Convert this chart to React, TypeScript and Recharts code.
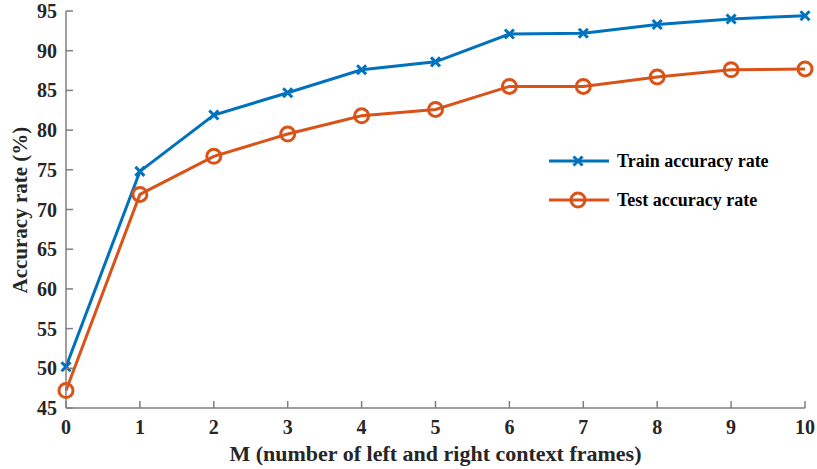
import React from "react";
import {
  LineChart,
  Line,
  XAxis,
  YAxis,
  Legend,
} from "recharts";

const M_VALUES = [0, 1, 2, 3, 4, 5, 6, 7, 8, 9, 10];
const TRAIN_ACC = [50.2, 74.8, 81.9, 84.7, 87.6, 88.6, 92.1, 92.2, 93.3, 94.0, 94.4];
const TEST_ACC = [47.2, 71.9, 76.7, 79.5, 81.8, 82.6, 85.5, 85.5, 86.7, 87.6, 87.7];
const X_TICKS = [0, 1, 2, 3, 4, 5, 6, 7, 8, 9, 10];
const Y_TICKS = [45, 50, 55, 60, 65, 70, 75, 80, 85, 90, 95];

const TRAIN_COLOR = "#0072BD";
const TEST_COLOR = "#D95319";
const AXIS_COLOR = "#7f7f7f";
const TEXT_COLOR = "#262626";
const FONT = "'Liberation Serif', 'Times New Roman', serif";
const TICK_LEN = 7;

const data = M_VALUES.map((m, i) => ({
  m,
  train: TRAIN_ACC[i],
  test: TEST_ACC[i],
}));

function XMark(props: any) {
  const { cx, cy } = props;
  if (cx == null || cy == null) return <g />;
  const s = 4.5;
  return (
    <g stroke={TRAIN_COLOR} strokeWidth={3}>
      <line x1={cx - s} y1={cy - s} x2={cx + s} y2={cy + s} />
      <line x1={cx - s} y1={cy + s} x2={cx + s} y2={cy - s} />
    </g>
  );
}

function OMark(props: any) {
  const { cx, cy } = props;
  if (cx == null || cy == null) return <g />;
  return <circle cx={cx} cy={cy} r={7} fill="none" stroke={TEST_COLOR} strokeWidth={3} />;
}

function BottomTick(props: any) {
  const { x, y, payload } = props;
  return (
    <g>
      <line x1={x} y1={y} x2={x} y2={y - TICK_LEN} stroke={AXIS_COLOR} strokeWidth={1.5} />
      <text x={x} y={y + 26} textAnchor="middle" fontFamily={FONT} fontWeight="bold" fontSize={20} fill={TEXT_COLOR}>
        {payload.value}
      </text>
    </g>
  );
}

function TopTick(props: any) {
  const { x, y } = props;
  return <line x1={x} y1={y} x2={x} y2={y + TICK_LEN} stroke={AXIS_COLOR} strokeWidth={1.5} />;
}

function LeftTick(props: any) {
  const { x, y, payload } = props;
  return (
    <g>
      <line x1={x} y1={y} x2={x + TICK_LEN} y2={y} stroke={AXIS_COLOR} strokeWidth={1.5} />
      <text x={x - 9} y={y + 7} textAnchor="end" fontFamily={FONT} fontWeight="bold" fontSize={20} fill={TEXT_COLOR}>
        {payload.value}
      </text>
    </g>
  );
}

function RightTick(props: any) {
  const { x, y } = props;
  return <line x1={x} y1={y} x2={x - TICK_LEN} y2={y} stroke={AXIS_COLOR} strokeWidth={1.5} />;
}

function LegendBox() {
  const rows = [
    { label: "Train accuracy rate", color: TRAIN_COLOR, mark: "x" },
    { label: "Test accuracy rate", color: TEST_COLOR, mark: "o" },
  ];
  return (
    <svg width={240} height={70} style={{ display: "block" }}>
      {rows.map((r, i) => {
        const y = 16 + i * 39;
        return (
          <g key={r.label}>
            <line x1={5} y1={y} x2={65} y2={y} stroke={r.color} strokeWidth={3} />
            {r.mark === "x" ? (
              <XMark cx={34} cy={y} />
            ) : (
              <OMark cx={34} cy={y} />
            )}
            <text x={73} y={y + 6} fontFamily={FONT} fontWeight="bold" fontSize={18} fill="#000">
              {r.label}
            </text>
          </g>
        );
      })}
    </svg>
  );
}

export default function App() {
  return (
    <div style={{ position: "absolute", left: 0, top: 0, background: "#fff" }}>
      <LineChart
        width={817}
        height={469}
        data={data}
        margin={{ top: 11, right: 12, left: 16, bottom: 0 }}
      >
        <XAxis
          dataKey="m"
          type="number"
          domain={[0, 10]}
          ticks={X_TICKS}
          height={61}
          tickSize={0}
          tickMargin={0}
          tickLine={false}
          tick={<BottomTick />}
          axisLine={{ stroke: AXIS_COLOR, strokeWidth: 1.5 }}
          interval={0}
          label={{
            value: "M (number of left and right context frames)",
            position: "insideBottom",
            offset: 8,
            style: { fontFamily: FONT, fontWeight: "bold", fontSize: 22, fill: TEXT_COLOR },
          }}
        />
        <XAxis
          xAxisId="top"
          dataKey="m"
          type="number"
          orientation="top"
          domain={[0, 10]}
          ticks={X_TICKS}
          height={0}
          tickSize={0}
          tickMargin={0}
          tickLine={false}
          tick={<TopTick />}
          interval={0}
          axisLine={{ stroke: AXIS_COLOR, strokeWidth: 1.5 }}
        />
        <YAxis
          type="number"
          domain={[45, 95]}
          ticks={Y_TICKS}
          width={50}
          tickSize={0}
          tickMargin={0}
          tickLine={false}
          tick={<LeftTick />}
          interval={0}
          axisLine={{ stroke: AXIS_COLOR, strokeWidth: 1.5 }}
          label={{
            value: "Accuracy rate (%)",
            angle: -90,
            position: "insideLeft",
            offset: 4,
            dy: 84,
            style: { fontFamily: FONT, fontWeight: "bold", fontSize: 21, fill: TEXT_COLOR },
          }}
        />
        <YAxis
          yAxisId="right"
          orientation="right"
          type="number"
          domain={[45, 95]}
          ticks={Y_TICKS}
          width={0}
          tickSize={0}
          tickMargin={0}
          tickLine={false}
          tick={<RightTick />}
          interval={0}
          axisLine={{ stroke: AXIS_COLOR, strokeWidth: 1.5 }}
        />
        <Legend
          content={<LegendBox />}
          layout="horizontal"
          verticalAlign="middle"
          align="center"
          wrapperStyle={{ left: 544, top: 145, width: 240 }}
        />
        <Line
          type="linear"
          dataKey="train"
          name="Train accuracy rate"
          stroke={TRAIN_COLOR}
          strokeWidth={3}
          dot={<XMark />}
          activeDot={false}
          isAnimationActive={false}
        />
        <Line
          type="linear"
          dataKey="test"
          name="Test accuracy rate"
          stroke={TEST_COLOR}
          strokeWidth={3}
          dot={<OMark />}
          activeDot={false}
          isAnimationActive={false}
        />
      </LineChart>
    </div>
  );
}
